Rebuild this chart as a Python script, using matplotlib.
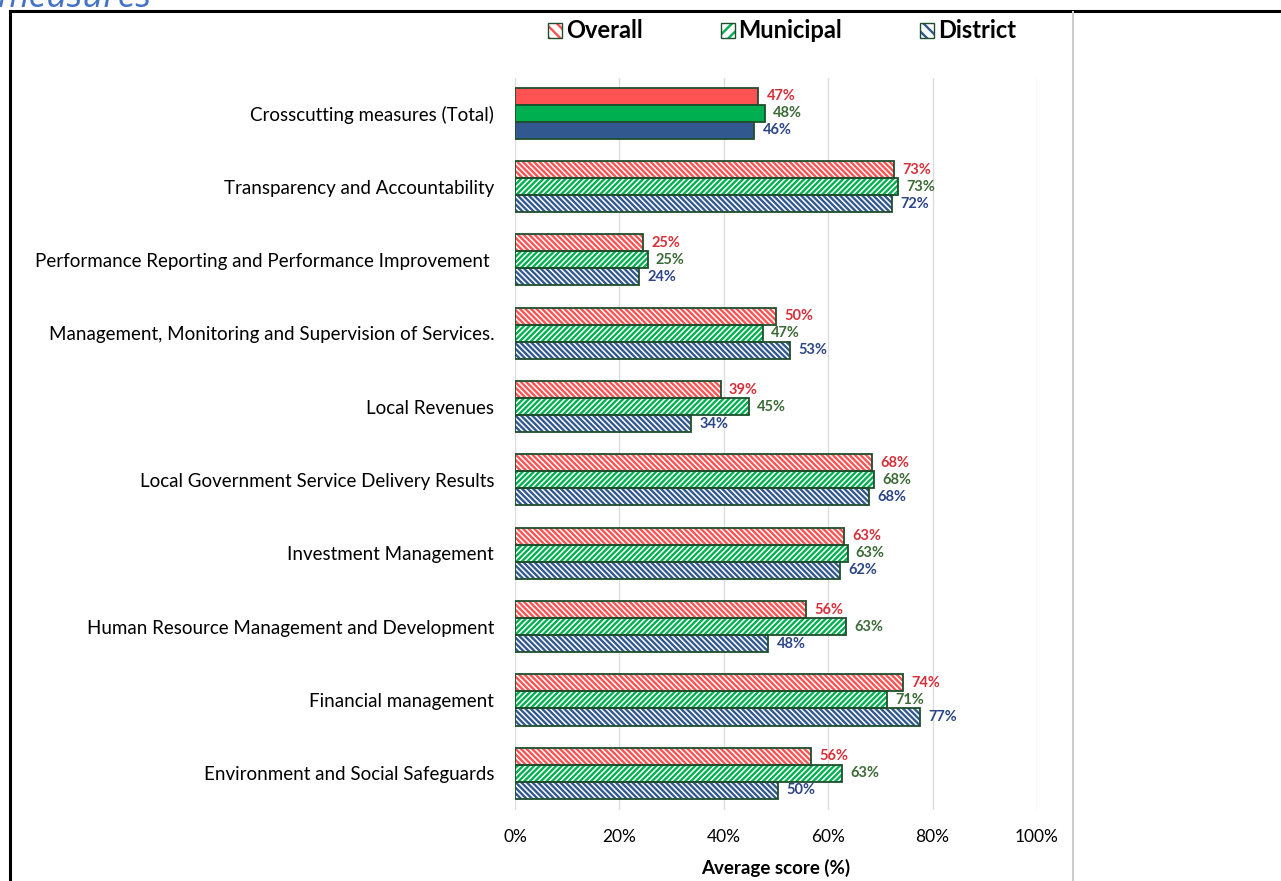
import numpy as np
import matplotlib
matplotlib.use('Agg')
import matplotlib.pyplot as plt
from matplotlib.patches import Patch
from matplotlib.lines import Line2D

plt.rcParams['font.family'] = ['Lato', 'DejaVu Sans']
plt.rcParams['hatch.linewidth'] = 1.7

# Data (top to bottom)
categories = [
    'Crosscutting measures (Total)',
    'Transparency and Accountability',
    'Performance Reporting and Performance Improvement ',
    'Management, Monitoring and Supervision of Services.',
    'Local Revenues',
    'Local Government Service Delivery Results',
    'Investment Management',
    'Human Resource Management and Development',
    'Financial management',
    'Environment and Social Safeguards',
]
overall = [46.6, 72.7, 24.6, 50.0, 39.4, 68.3, 63.1, 55.8, 74.4, 56.7]
municipal = [47.9, 73.3, 25.4, 47.5, 44.8, 68.7, 63.7, 63.5, 71.2, 62.7]
district = [45.8, 72.3, 23.7, 52.7, 33.8, 67.9, 62.3, 48.5, 77.5, 50.4]
labels_overall = ['47%', '73%', '25%', '50%', '39%', '68%', '63%', '56%', '74%', '56%']
labels_municipal = ['48%', '73%', '25%', '47%', '45%', '68%', '63%', '63%', '71%', '63%']
labels_district = ['46%', '72%', '24%', '53%', '34%', '68%', '62%', '48%', '77%', '50%']

series = [
    ('Overall', overall, labels_overall, '#FF5252', '\\\\\\\\\\\\', '#D7303A', -1),
    ('Municipal', municipal, labels_municipal, '#00B050', '//////', '#3B6B36', 0),
    ('District', district, labels_district, '#32598F', '\\\\\\\\\\\\', '#2C4686', 1),
]
edge = '#1F4E2C'

W, H = 1281, 881
fig = plt.figure(figsize=(W / 100, H / 100), dpi=100)
ax = fig.add_axes([515 / W, (H - 810) / H, 522 / W, (810 - 78) / H])

y = np.arange(len(categories))
bh = 0.232
for name, vals, labs, col, hatch, lcol, k in series:
    pos = y + k * bh
    for i, (p, v) in enumerate(zip(pos, vals)):
        if i == 0:
            # total row is solid
            ax.barh(p, v, height=bh, color=col, edgecolor=edge, linewidth=1.3, zorder=3)
        else:
            ax.barh(p, v, height=bh, color='white', edgecolor=col, hatch=hatch,
                    linewidth=0, zorder=3)
            ax.barh(p, v, height=bh, color='none', edgecolor=edge, linewidth=1.3, zorder=4)
        ax.text(v + 1.6, p, labs[i], ha='left', va='center', fontsize=10.5,
                fontweight='bold', color=lcol, zorder=5)

ax.set_xlim(0, 100)
ax.set_ylim(9.5, -0.48)
ax.set_xticks(np.arange(0, 101, 20))
ax.set_xticklabels([f'{t}%' for t in range(0, 101, 20)], fontsize=12.5)
ax.set_yticks(y)
ax.set_yticklabels(categories, fontsize=13.5)
ax.tick_params(length=0, axis='y', pad=15)
ax.tick_params(length=0, axis='x', pad=14)
ax.grid(axis='x', color='#DDDDDD', linewidth=1, zorder=0)
for s in ax.spines.values():
    s.set_visible(False)
ax.set_xlabel('Average score (%)', fontsize=13.5, fontweight='bold', labelpad=10)

# legend: hatched patch with dark outline on top
handles = []
for name, vals, labs, col, hatch, lcol, k in series:
    handles.append((Patch(facecolor='white', edgecolor=col, hatch='\\\\\\' if k else '///', linewidth=0),
                    Patch(facecolor='none', edgecolor=edge, linewidth=1.0)))
leg = fig.legend(handles, [s[0] for s in series], loc='center', ncol=3,
                 bbox_to_anchor=(782 / W, 1 - 31 / H), frameon=False,
                 prop={'weight': 'bold', 'size': 17}, handlelength=0.6,
                 handleheight=0.6, handletextpad=0.15, columnspacing=3.3)

# document frame
fig.add_artist(Line2D([10 / W, 10 / W], [0, 1 - 11 / H], color='black', lw=2.2))
fig.add_artist(Line2D([10 / W, 1], [1 - 11 / H, 1 - 11 / H], color='black', lw=2.2))
fig.add_artist(Line2D([1073 / W, 1073 / W], [0, 1 - 12 / H], color='#CCCCCC', lw=1.5))
fig.text(-2 / W, 1 - 7 / H, 'measures', fontsize=26, style='italic', color='#4472C4',
         ha='left', va='baseline', family=['Open Sans', 'DejaVu Sans'])

fig.savefig('out.png', dpi=100)
